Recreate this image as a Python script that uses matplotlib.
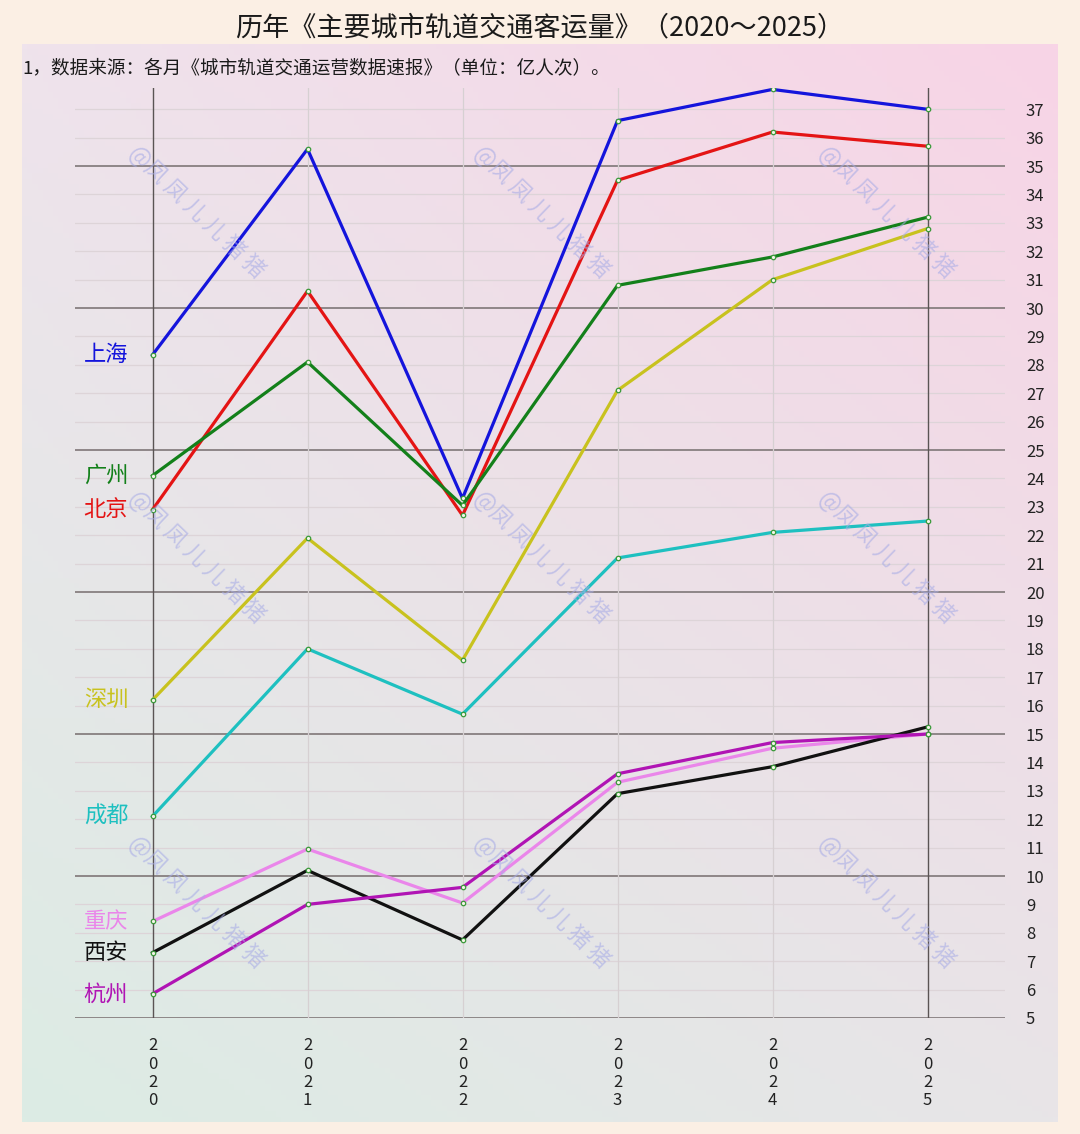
import numpy as np
import matplotlib
matplotlib.use("Agg")
import matplotlib.pyplot as plt

plt.rcParams.update({
    "font.family": ["Noto Sans CJK SC", "DejaVu Sans"],
    "font.size": 12,
})

# ── Data (亿人次) ──────────────────────────────────────────────────────────────
years = ["2020", "2021", "2022", "2023", "2024", "2025"]

shanghai  = [28.35, 35.6, 23.3, 36.6, 37.7, 37.0]
beijing   = [22.9, 30.6, 22.7, 34.5, 36.2, 35.7]
guangzhou = [24.1, 28.1, 23.05, 30.8, 31.8, 33.2]
shenzhen  = [16.2, 21.9, 17.6, 27.1, 31.0, 32.8]
chengdu   = [12.1, 18.0, 15.7, 21.2, 22.1, 22.5]
chongqing = [8.4, 10.95, 9.05, 13.3, 14.5, 15.0]
xian      = [7.3, 10.2, 7.75, 12.9, 13.85, 15.25]
hangzhou  = [5.85, 9.0, 9.6, 13.6, 14.7, 15.0]

cities = ["上海", "北京", "广州", "深圳", "成都", "重庆", "西安", "杭州"]
series = [shanghai, beijing, guangzhou, shenzhen, chengdu, chongqing, xian, hangzhou]
colors = ["#1414dc", "#e41414", "#13801a", "#c8c21e", "#1ec0c0", "#ea86ea", "#111111", "#b014b4"]

BG_FIG = "#fbefe4"

# ── Figure ─────────────────────────────────────────────────────────────────────
fig = plt.figure(figsize=(10.8, 11.34), dpi=100, facecolor=BG_FIG)

# gradient panel behind the chart
panel = fig.add_axes([22/1080, 1 - 1122/1134, 1036/1080, 1078/1134], zorder=0)
tl = np.array([0xef, 0xe3, 0xec]) / 255
tr = np.array([0xf8, 0xd4, 0xe6]) / 255
bl = np.array([0xdc, 0xec, 0xe4]) / 255
br = np.array([0xe8, 0xe5, 0xe8]) / 255
u = np.linspace(0, 1, 200)[None, :, None]
v = np.linspace(0, 1, 200)[:, None, None]
grad = (1 - v) * ((1 - u) * tl + u * tr) + v * ((1 - u) * bl + u * br)
panel.imshow(grad, aspect="auto", extent=[0, 1, 0, 1], origin="upper")
panel.axis("off")

ax = fig.add_axes([75/1080, 1 - 1018/1134, 930/1080, 930/1134], zorder=2)
ax.patch.set_alpha(0)

x = np.arange(len(years))
ax.set_xlim(-0.5, len(years) - 0.5)
ax.set_ylim(5, 37.75)

# grid
for yv in range(5, 38):
    major = yv % 5 == 0
    ax.axhline(yv, color="#877f80" if major else "#ddd4d8",
               lw=1.3 if major else 0.9, zorder=1)
for i in x:
    edge = i in (0, len(years) - 1)
    ax.axvline(i, color="#5a5454" if edge else "#d6d0d2",
               lw=1.0 if edge else 0.9, zorder=1)

for name, vals, c in zip(cities, series, colors):
    ax.plot(x, vals, color=c, lw=2.3, zorder=3,
            marker="o", markersize=3.2, markerfacecolor="#f4f4e8",
            markeredgecolor="#3a9a3a", markeredgewidth=0.9)
    ax.text(-0.3, vals[0], name, color=c, fontsize=16,
            ha="center", va="center", zorder=4)

for s in ax.spines.values():
    s.set_visible(False)

ax.yaxis.tick_right()
ax.set_yticks(range(5, 38))
ax.tick_params(axis="y", length=0, pad=15, labelsize=12, labelcolor="#222222")
ax.set_xticks(x)
ax.set_xticklabels(["\n".join(y) for y in years], linespacing=1.1,
                   fontsize=12, color="#222222")
ax.tick_params(axis="x", length=0, pad=14)

# watermarks
for cy in (212, 557, 902):
    for cx in (197, 542, 887):
        fig.text(cx/1080, 1 - cy/1134, "@凤 凤 儿 儿 猪 猪", color="#a8ace6",
                 alpha=0.6, fontsize=16, rotation=-44, ha="center", va="center",
                 zorder=5)

fig.text(540/1080, 1 - 28/1134, "历年《主要城市轨道交通客运量》（2020～2025）",
         fontsize=19.5, ha="center", va="center", color="#1a1a1a")
fig.text(22/1080, 1 - 68/1134, "1，数据来源：各月《城市轨道交通运营数据速报》（单位：亿人次）。",
         fontsize=13.4, ha="left", va="center", color="#1a1a1a")

fig.savefig("out.png", dpi=100, facecolor=BG_FIG)
